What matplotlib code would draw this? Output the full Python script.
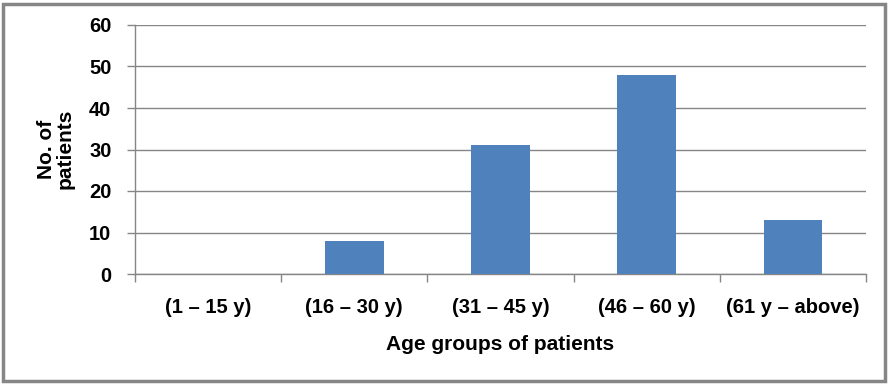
import matplotlib
matplotlib.use("Agg")
import matplotlib.pyplot as plt
from matplotlib.patches import Rectangle

categories = ["(1 – 15 y)", "(16 – 30 y)", "(31 – 45 y)", "(46 – 60 y)", "(61 y – above)"]
values = [0, 8, 31, 48, 13]
yticks = [0, 10, 20, 30, 40, 50, 60]

plt.rcParams['font.family'] = ['Liberation Sans', 'DejaVu Sans']
plt.rcParams['font.weight'] = 'bold'

W, H = 891, 385
fig = plt.figure(figsize=(W/100, H/100), dpi=100)
ax = fig.add_axes([135/W, 1 - 274/H, (866-135)/W, (274-25)/H])

x = list(range(len(categories)))
ax.bar(x, values, width=0.4, color="#4F81BD", zorder=3)
ax.set_xlim(-0.5, len(categories) - 0.5)
ax.set_ylim(0, 60)
ax.set_yticks(yticks)
ax.set_yticklabels([str(v) for v in yticks], fontsize=14.5, fontweight='bold')
ax.yaxis.grid(True, color="#868686", linewidth=1.0, zorder=0)

# category labels centered, ticks at boundaries
ax.set_xticks([i - 0.5 for i in range(len(categories) + 1)])
ax.set_xticklabels([])
ax.set_xticks(x, minor=True)
ax.set_xticklabels(categories, minor=True, fontsize=14.5, fontweight='bold')
ax.tick_params(axis='x', which='minor', length=0, pad=17)
ax.tick_params(axis='x', which='major', length=6, color="#868686", width=1)
ax.tick_params(axis='y', length=6, color="#868686", width=1, pad=11)

for s in ['top', 'right']:
    ax.spines[s].set_visible(False)
for s in ['left', 'bottom']:
    ax.spines[s].set_color("#868686")
    ax.spines[s].set_linewidth(1)

ax.set_xlabel("Age groups of patients", fontsize=15, fontweight='bold', labelpad=13)
fig.text(56/W, 1 - 149/H, "No. of\npatients", rotation=90, ha='center', va='center',
         fontsize=15, fontweight='bold', linespacing=1.0)

fig.patches.append(Rectangle((3/W, 4/H), (885-3)/W, (381-4)/H, transform=fig.transFigure,
                             fill=False, edgecolor="#868686", linewidth=2.5))

fig.savefig("out.png", dpi=100)
